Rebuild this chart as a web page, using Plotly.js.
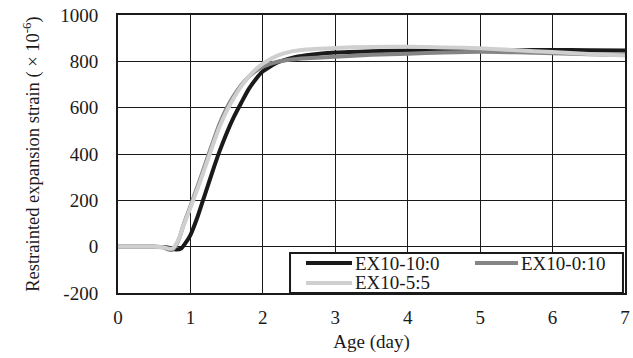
<!DOCTYPE html>
<html><head><meta charset="utf-8">
<script src="https://cdn.plot.ly/plotly-3.0.1.min.js"></script>
<style>html,body{margin:0;padding:0;background:#fff;}#chart{width:633px;height:358px;}</style>
</head><body><div id="chart"></div>
<script>
const seriesNames = ["EX10-10:0", "EX10-0:10", "EX10-5:5"];
const seriesColors = ["#1a1a1a", "#858585", "#cfcfcf"];

const xBlack = [0, 0.3, 0.5, 0.65, 0.72, 0.8, 0.87, 0.93, 1.0, 1.1, 1.2, 1.3, 1.4, 1.5, 1.6, 1.7, 1.8, 1.9, 2.0, 2.2, 2.4, 2.6, 3.0, 3.5, 4.0, 4.5, 5.0, 5.5, 6.0, 6.5, 7.0];
const yBlack = [0, 0, 0, -2, -6, -12, -8, 15, 50, 130, 225, 320, 410, 490, 560, 620, 678, 722, 757, 795, 815, 826, 838, 844, 847, 847, 847, 848, 849, 848, 847];

const xMid = [0, 0.3, 0.5, 0.62, 0.7, 0.75, 0.8, 0.85, 0.9, 1.0, 1.1, 1.2, 1.3, 1.4, 1.5, 1.6, 1.7, 1.8, 1.9, 2.0, 2.2, 2.4, 2.6, 3.0, 3.5, 4.0, 4.5, 5.0, 5.5, 6.0, 6.5, 7.0];
const yMid = [0, 0, 0, -3, -12, -14, 5, 40, 90, 175, 262, 352, 442, 528, 598, 652, 697, 732, 758, 777, 798, 808, 813, 820, 828, 833, 838, 841, 839, 835, 831, 827];

const xLight = [0, 0.3, 0.5, 0.62, 0.7, 0.75, 0.8, 0.85, 0.9, 1.0, 1.1, 1.2, 1.3, 1.4, 1.5, 1.6, 1.7, 1.8, 1.9, 2.0, 2.2, 2.4, 2.6, 3.0, 3.5, 4.0, 4.5, 5.0, 5.5, 6.0, 6.5, 7.0];
const yLight = [0, 0, 0, -2, -8, -8, 10, 42, 88, 168, 252, 340, 430, 515, 585, 643, 692, 732, 765, 790, 825, 843, 851, 858, 862, 863, 860, 856, 848, 840, 832, 825];

const xTicks = [0, 1, 2, 3, 4, 5, 6, 7];
const yTicks = [-200, 0, 200, 400, 600, 800, 1000];

const font = "Liberation Serif";
const fs = 19;
const xs = [xBlack, xMid, xLight];
const ys = [yBlack, yMid, yLight];
const traces = seriesNames.map((n, i) => ({
  x: xs[i], y: ys[i], name: n, type: "scatter", mode: "lines",
  line: {color: seriesColors[i], width: 4, shape: "spline", smoothing: 0.6},
  showlegend: false
}));

// Legend drawn as a boxed key inside the plot (paper coordinates)
const legendBox = {x0: 0.3393, x1: 0.996, y0: 0, y1: 0.1439};
const legendSlots = [
  {lx0: 0.3708, lx1: 0.4615, tx: 0.4660, y: 0.1079},
  {lx0: 0.7041, lx1: 0.7890, tx: 0.7935, y: 0.1079},
  {lx0: 0.3708, lx1: 0.4615, tx: 0.4660, y: 0.0360}
];
const shapes = [{
  type: "rect", xref: "paper", yref: "paper",
  x0: legendBox.x0, x1: legendBox.x1, y0: legendBox.y0, y1: legendBox.y1,
  fillcolor: "#fff", line: {color: "#1a1a1a", width: 2}, layer: "above"
}].concat(legendSlots.map((s, i) => ({
  type: "line", xref: "paper", yref: "paper",
  x0: s.lx0, x1: s.lx1, y0: s.y, y1: s.y,
  line: {color: seriesColors[i], width: 4}, layer: "above"
})));
const annotations = legendSlots.map((s, i) => ({
  xref: "paper", yref: "paper", x: s.tx, y: s.y,
  xanchor: "left", yanchor: "middle", showarrow: false,
  text: seriesNames[i], font: {family: font, size: fs, color: "#1a1a1a"}, borderpad: 0
}));

const layout = {
  width: 633, height: 358,
  margin: {l: 118, r: 8, t: 15, b: 65},
  paper_bgcolor: "#fff", plot_bgcolor: "#fff",
  font: {family: font, size: fs, color: "#1a1a1a"},
  showlegend: false,
  xaxis: {
    range: [0, 7], tickvals: xTicks, ticktext: xTicks.map(String),
    showgrid: true, gridcolor: "#1a1a1a", gridwidth: 1,
    showline: true, linecolor: "#1a1a1a", linewidth: 2, mirror: true,
    zeroline: false, ticks: "", ticklabelstandoff: 6,
    title: {text: "Age (day)", font: {family: font, size: fs}, standoff: 8}
  },
  yaxis: {
    range: [-200, 1000], tickvals: yTicks, ticktext: yTicks.map(String),
    showgrid: true, gridcolor: "#1a1a1a", gridwidth: 1,
    showline: true, linecolor: "#1a1a1a", linewidth: 2, mirror: true,
    zeroline: false, ticks: "", ticklabelstandoff: 14,
    title: {text: "Restrainted expansion strain ( × 10<sup>-6</sup>)", font: {family: font, size: 18.5}, standoff: 16}
  },
  shapes: shapes,
  annotations: annotations
};
Plotly.newPlot("chart", traces, layout, {staticPlot: true, displayModeBar: false});
</script></body></html>
